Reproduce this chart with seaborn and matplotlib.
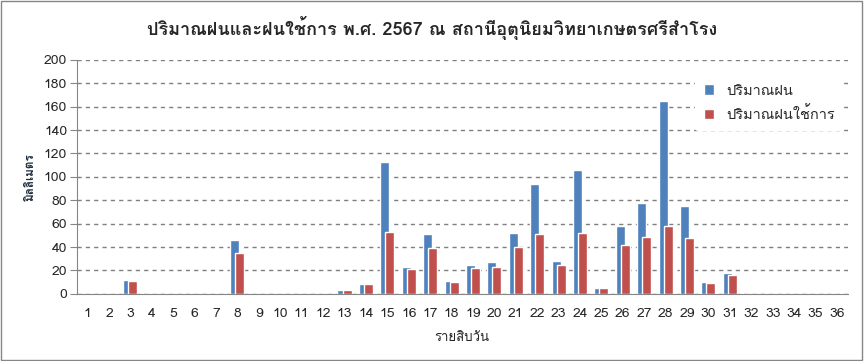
import matplotlib
matplotlib.use('Agg')
import matplotlib.pyplot as plt
import pandas as pd
import seaborn as sns
from matplotlib import font_manager
from matplotlib.ft2font import FT2Font
from matplotlib.patches import Rectangle

# Data: ten-day periods of 2567, rainfall and effective rainfall (mm)
periods = [str(i) for i in range(1, 37)]
rain = [0, 0, 12, 0, 0, 0, 0, 46, 0, 0, 0, 0, 3, 8, 113, 23, 51, 11,
        25, 27, 52, 94, 28, 106, 5, 58, 78, 165, 75, 10, 18, 0, 0, 0, 0, 0]
eff_rain = [0, 0, 11, 0, 0, 0, 0, 35, 0, 0, 0, 0, 3, 8, 53, 21, 39, 10,
            22, 23, 40, 51, 25, 52, 5, 42, 49, 58, 48, 9, 16, 0, 0, 0, 0, 0]
series_names = ['ปริมาณฝน', 'ปริมาณฝนใช้การ']
title = 'ปริมาณฝนและฝนใช้การ พ.ศ. 2567 ณ สถานีอุตุนิยมวิทยาเกษตรศรีสำโรง'

df = pd.DataFrame({
    'period': periods * 2,
    'value': rain + eff_rain,
    'series': [series_names[0]] * len(periods) + [series_names[1]] * len(periods),
})

# find a font that has thai glyphs
thai_font = None
for f in font_manager.fontManager.ttflist:
    try:
        if 0x0E01 in FT2Font(f.fname).get_charmap():
            thai_font = f.name
            break
    except Exception:
        pass

sns.set_style('white')
fams = ['DejaVu Sans']
if thai_font:
    fams = [thai_font, 'DejaVu Sans']
plt.rcParams['font.family'] = fams

fig = plt.figure(figsize=(8.64, 3.61), dpi=100)
ax = fig.add_axes([0.089, 0.186, 0.892, 0.648])

sns.barplot(data=df, x='period', y='value', hue='series', order=periods,
            hue_order=series_names, palette=['#4F81BD', '#C0504D'],
            width=0.47, gap=-0.79, saturation=1, errorbar=None, ax=ax)

ax.set_ylim(0, 200)
ax.set_yticks(range(0, 201, 20))
ax.set_xlim(-0.5, 35.5)
ax.yaxis.grid(True, linestyle=(0, (3, 3)), color='#7f7f7f', linewidth=1)
ax.set_axisbelow(True)
for s in ['top', 'right']:
    ax.spines[s].set_visible(False)
for s in ['left', 'bottom']:
    ax.spines[s].set_color('#868686')
ax.set_xticks([i + 0.5 for i in range(-1, 36)], minor=True)
ax.tick_params(axis='x', which='major', length=0, pad=10, labelsize=10)
ax.tick_params(axis='x', which='minor', length=5, color='#868686')
ax.tick_params(axis='y', length=5, color='#868686', labelsize=10, pad=2, left=True)

ax.set_xlabel('รายสิบวัน', fontsize=9.5, labelpad=9)
ax.set_ylabel('มิลลิเมตร', fontsize=8.5, fontweight='bold', color='#1f2d3d', labelpad=6)
fig.suptitle(title, fontsize=13, fontweight='bold', y=0.955)

leg = ax.legend(loc='upper right', bbox_to_anchor=(1.0, 0.955), frameon=True,
                fontsize=10.5, handlelength=0.7, handleheight=0.7, handletextpad=0.8,
                labelspacing=0.6, borderpad=0.6, borderaxespad=0.3)
leg.get_frame().set_edgecolor('none')
leg.get_frame().set_facecolor('white')
leg.get_frame().set_alpha(1)

fig.add_artist(Rectangle((0.001, 0.002), 0.997, 0.995, transform=fig.transFigure,
                         fill=False, edgecolor='#868686', linewidth=1))

fig.savefig('out.png', dpi=100)
